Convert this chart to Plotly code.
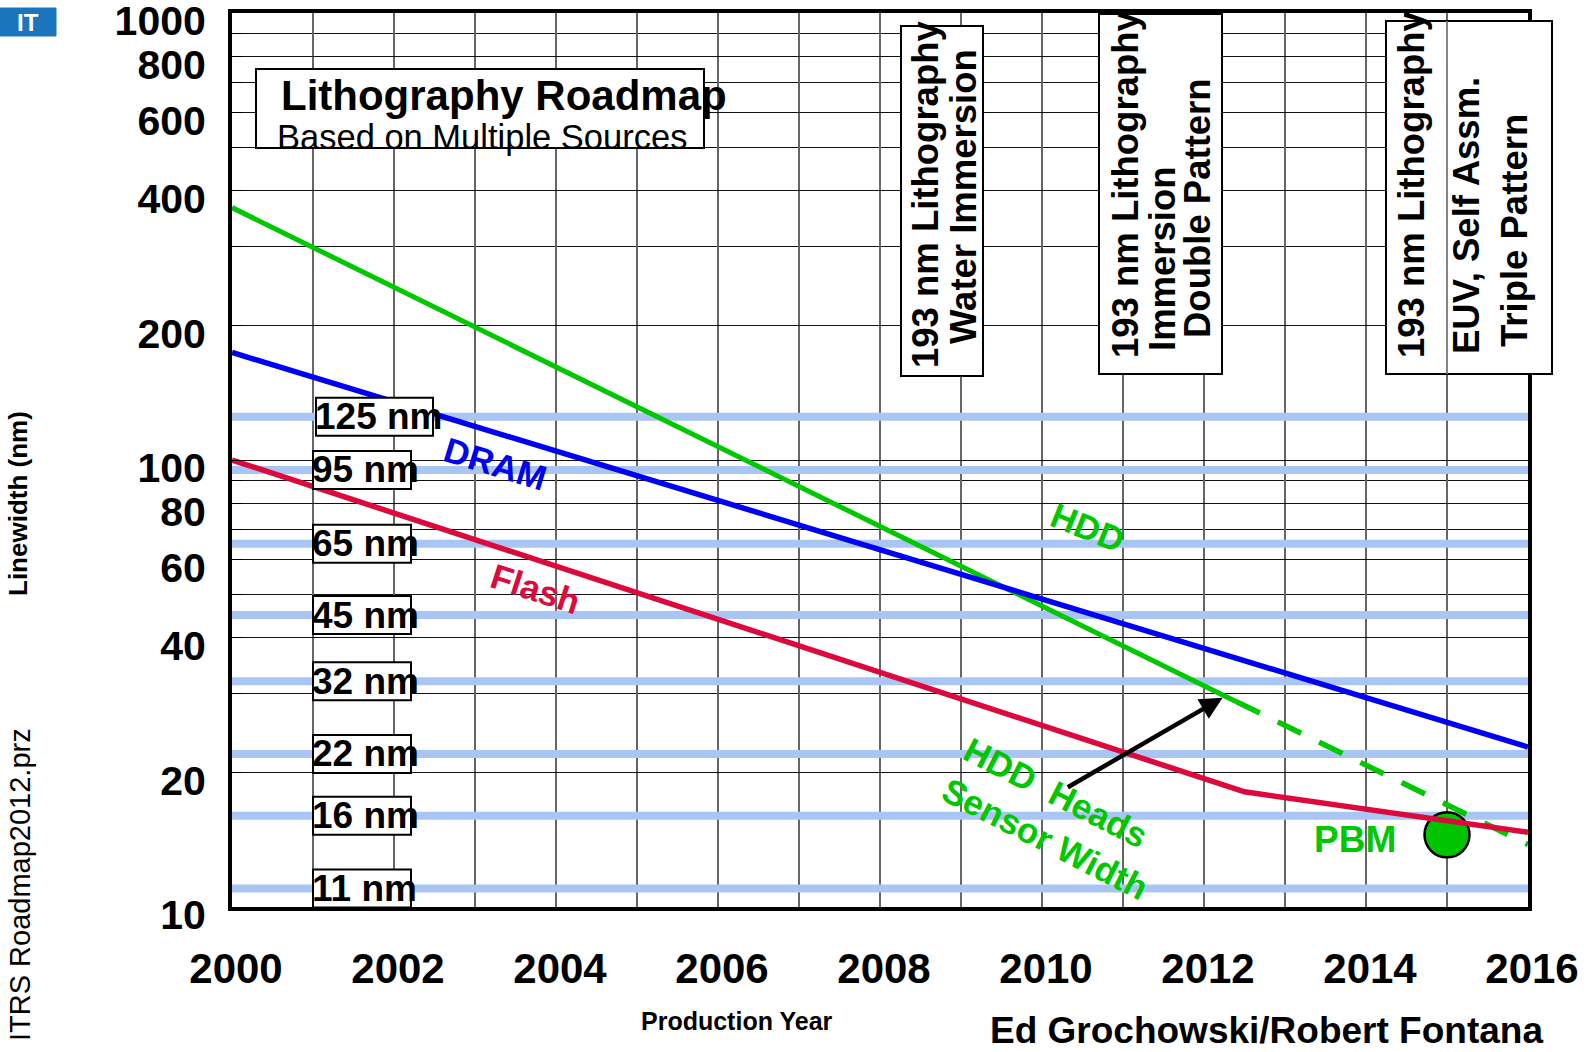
import numpy as np
import plotly.graph_objects as go

# ---------------- data ----------------
dram_years = [2000, 2016]
dram_nm = [174, 22.8]

flash_years = [2000, 2012.5, 2016]
flash_nm = [100, 18.1, 14.7]

hdd_years = [2000, 2012.4]
hdd_nm = [367, 28.8]
hdd_proj_years = [2012.4, 2016]
hdd_proj_nm = [28.8, 13.8]

pbm_year = [2015.0]
pbm_nm = [14.5]

node_nm = [125, 95, 65, 45, 32, 22, 16, 11]
node_labels = [f"{n} nm" for n in node_nm]

year_ticks = list(range(2000, 2017))
year_labels = [str(y) if y % 2 == 0 else "" for y in year_ticks]
lw_ticks = [10, 20, 40, 60, 80, 100, 200, 400, 600, 800, 1000]
lw_minor = [30, 50, 70, 90, 300, 500, 700, 900]

# sensor-width arrow: (year, nm) tail and head
arrow_tail = (2010.3, 18.45)
arrow_head = (2012.23, 29.4)

era_1 = ["193 nm Lithography", "Water Immersion"]
era_2 = ["193 nm Lithography", "Immersion", "Double Pattern"]
era_3 = ["193 nm Lithography", "EUV, Self Assm.", "Triple Pattern"]

# ---------------- styling ----------------
FONT = "Liberation Sans, Arial, Helvetica, sans-serif"
BLUE = "#0000F5"
RED = "#DC0A3C"
GREEN = "#00C800"
BAND = "#A8C5F3"

W, H = 1595, 1052
PL, PR, PT, PB = 232, 1528, 13, 907


def px(x):
    return (x - PL) / (PR - PL)


def py(y):
    return (PB - y) / (PB - PT)


fig = go.Figure()

# technology-node bands
for v in node_nm:
    fig.add_trace(go.Scatter(x=[dram_years[0], dram_years[-1]], y=[v, v], mode="lines",
                             line=dict(color=BAND, width=8), hoverinfo="skip",
                             showlegend=False))

fig.add_trace(go.Scatter(x=hdd_years, y=hdd_nm, mode="lines",
                         line=dict(color=GREEN, width=5), showlegend=False))
fig.add_trace(go.Scatter(x=hdd_proj_years, y=hdd_proj_nm, mode="lines",
                         line=dict(color=GREEN, width=5.5, dash="26px,20px"),
                         showlegend=False))
fig.add_trace(go.Scatter(x=pbm_year, y=pbm_nm, mode="markers",
                         marker=dict(size=45, color="#00C400",
                                     line=dict(color="black", width=2.5)),
                         showlegend=False))
fig.add_trace(go.Scatter(x=dram_years, y=dram_nm, mode="lines",
                         line=dict(color=BLUE, width=5.5), showlegend=False))
fig.add_trace(go.Scatter(x=flash_years, y=flash_nm, mode="lines",
                         line=dict(color=RED, width=5.5), showlegend=False))

shapes = []
annotations = []


def box(x0, y0, x1, y1):
    shapes.append(dict(type="rect", xref="paper", yref="paper",
                       x0=px(x0), x1=px(x1), y0=py(y1), y1=py(y0),
                       fillcolor="white", line=dict(color="black", width=2),
                       layer="above"))


def text(s, x, y, size, color="black", bold=True, angle=0,
         xanchor="center", yanchor="middle", yref="paper"):
    annotations.append(dict(
        text=s, x=px(x), y=(py(y) if yref == "paper" else y), xref="paper", yref=yref,
        showarrow=False, textangle=angle, xanchor=xanchor, yanchor=yanchor,
        font=dict(family=FONT, size=size, color=color,
                  weight="bold" if bold else "normal")))


# node label boxes, centred on each band
half_h = 19 / (PB - PT)
for v, lab in zip(node_nm, node_labels):
    yc = (np.log10(v) - 1) / 2
    x0 = 313 if v < 100 else 316
    x1 = x0 + (98 if v < 100 else 117)
    shapes.append(dict(type="rect", xref="paper", yref="paper",
                       x0=px(x0), x1=px(x1), y0=yc - half_h, y1=yc + half_h,
                       fillcolor="white", line=dict(color="black", width=2),
                       layer="above"))
    text(lab, x0 - 3, np.log10(v), 37, xanchor="left", yref="y")

# title box
box(256, 69, 704, 148)
text("Lithography Roadmap", 279, 95, 42, xanchor="left")
text("Based on Multiple Sources", 275, 137, 34.5, bold=False, xanchor="left")

# lithography era boxes
box(901, 26, 983, 376)
for s, xc, yc in zip(era_1, [926, 963], [194, 197]):
    text(s, xc, yc, 36.5, angle=-90)

box(1099, 14, 1222, 374)
for s, xc, yc in zip(era_2, [1125, 1162, 1198], [184, 259, 208]):
    text(s, xc, yc, 36.5, angle=-90)

box(1386, 21, 1552, 374)
shapes.append(dict(type="line", xref="x", yref="paper", x0=2015, x1=2015,
                   y0=py(374), y1=py(21), line=dict(color="#777", width=1.8),
                   layer="above"))
for s, xc, yc in zip(era_3, [1411, 1466, 1514], [184, 216, 231]):
    text(s, xc, yc, 36.5, angle=-90)

# curve labels
text("DRAM", 495, 463, 35, color=BLUE, angle=17)
text("Flash", 535, 588, 35, color=RED, angle=18)
text("HDD", 1088, 527, 35, color=GREEN, angle=22)
text("HDD  Heads", 1056, 792, 35, color=GREEN, angle=27)
text("Sensor Width", 1045, 838, 35, color=GREEN, angle=27)
text("PBM", 1355, 839, 37, color=GREEN)

# arrow pointing at the HDD curve
annotations.append(dict(
    x=arrow_head[0], y=np.log10(arrow_head[1]), xref="x", yref="y",
    ax=arrow_tail[0], ay=np.log10(arrow_tail[1]), axref="x", ayref="y",
    text="", showarrow=True, arrowhead=2, arrowsize=1, arrowwidth=4.5,
    arrowcolor="black", standoff=0))

# side and bottom texts
text("Linewidth (nm)", 18, 503, 26, angle=-90)
text("ITRS Roadmap2012.prz", 20, 885, 29, bold=False, angle=-90)
text("Production Year", 737, 1021, 25)
text("Ed Grochowski/Robert Fontana", 1266, 1030, 37)

# logo badge
box(-2, 8, 56, 36)
shapes[-1].update(fillcolor="#1B75BC", line=dict(color="#1B75BC", width=1))
text("IT", 28, 22, 24, color="white")

fig.update_layout(
    width=W, height=H, autosize=False,
    margin=dict(l=PL, r=W - PR, t=PT, b=H - PB, pad=0, autoexpand=False),
    paper_bgcolor="white", plot_bgcolor="white",
    shapes=shapes, annotations=annotations,
    font=dict(family=FONT, color="black"),
    xaxis=dict(
        range=[2000, 2016], tickvals=year_ticks, ticktext=year_labels,
        showgrid=True, gridcolor="#666", gridwidth=1.8, automargin=False,
        showline=True, linecolor="black", linewidth=4, mirror=True,
        ticks="", zeroline=False, ticklabelstandoff=22, ticklabelshift=4,
        ticklabeloverflow="allow",
        tickfont=dict(family=FONT, size=42, color="black", weight="bold"),
    ),
    yaxis=dict(
        type="log", range=[1, 3], tickvals=lw_ticks, ticktext=[str(v) for v in lw_ticks],
        showgrid=True, gridcolor="#111", gridwidth=1.3, automargin=False,
        showline=True, linecolor="black", linewidth=4, mirror=True,
        ticks="inside", ticklen=10, tickwidth=1.3, tickcolor="black",
        ticklabelstandoff=14, ticklabelshift=8, ticklabeloverflow="allow",
        zeroline=False,
        minor=dict(tickvals=lw_minor, showgrid=True, gridcolor="#111", gridwidth=1.3,
                   ticks="inside", ticklen=10, tickcolor="black"),
        tickfont=dict(family=FONT, size=41, color="black", weight="bold"),
    ),
)

fig.write_html("out.html")
